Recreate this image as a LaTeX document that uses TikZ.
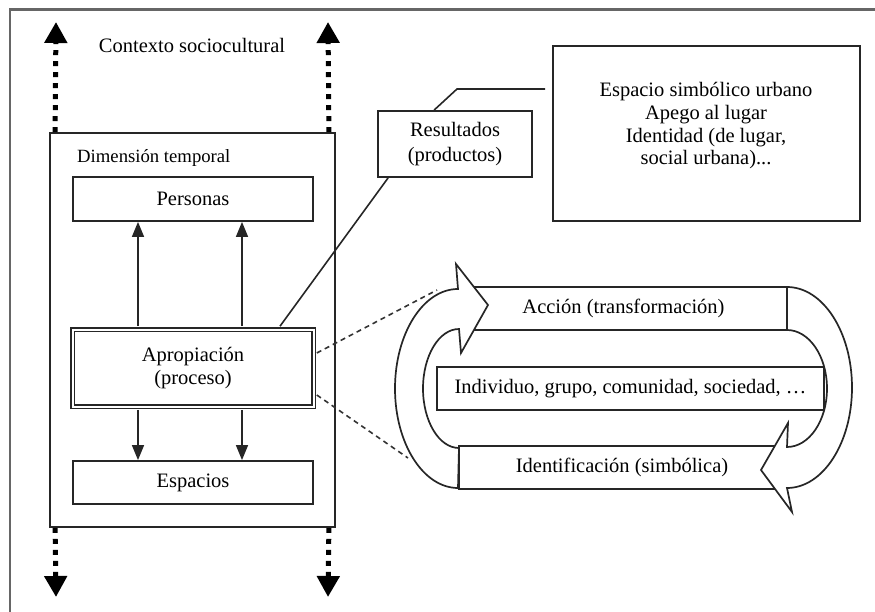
\documentclass[tikz,border=0pt]{standalone}
\usepackage{fontspec}
\setmainfont{Liberation Serif}
\usetikzlibrary{arrows.meta}
\begin{document}
\begin{tikzpicture}[x=1pt,y=-1pt,
  box/.style={draw=black!85,line width=1.8pt,fill=white,inner sep=0pt,
    font=\fontsize{20.5}{23}\selectfont,align=center},
  txt/.style={inner sep=0pt,font=\fontsize{20.5}{22.7}\selectfont,align=center},
  conn/.style={draw=black!85,line width=1.6pt},
  arr/.style={conn,-{Triangle[width=12pt,length=15pt]}},
  dotarr/.style={draw=black,line width=5pt,dash pattern=on 5pt off 6pt,
    -{Triangle[width=22pt,length=21pt]}},
  dashline/.style={draw=black!80,line width=1.6pt,dash pattern=on 5pt off 4pt},
  band/.style={draw=black!85,line width=1.7pt,fill=white,line join=miter},
  frame/.style={draw=black!60,line width=2.2pt}
]
\useasboundingbox (0,0) rectangle (875,612);
% outer frame (cropped)
\draw[frame] (875,9.5) -- (10,9.5) -- (10,612);
\node[txt] (ctx) at (192,45) {Contexto sociocultural};
% Dimension temporal box
\node[draw=black!85,line width=1.8pt,inner sep=0pt,minimum width=285,minimum height=394] (dim) at (192.5,330) {};
\node[inner sep=0pt,anchor=west,font=\fontsize{18.7}{22}\selectfont] (dimt) at (77,158) {Dimensión temporal};
% dotted arrows
\coordinate (tl) at (56,22);
\coordinate (tr) at (328,22);
\coordinate (bl) at (56,597);
\coordinate (br) at (328,597);
\draw[dotarr] ([xshift=6pt]dim.north west) -- (tl);
\draw[dotarr] ([xshift=-7pt]dim.north east) -- (tr);
\draw[dotarr] ([xshift=6pt]dim.south west) -- (bl);
\draw[dotarr] ([xshift=-7pt]dim.south east) -- (br);
% boxes
\node[box,minimum width=240,minimum height=44] (per) at (193,199) {Personas};
\node[box,double,double distance=2pt,line width=1.6pt,minimum width=241,minimum height=77] (apr) at (193,368) {Apropiación\\(proceso)};
\node[box,minimum width=240,minimum height=43] (esp) at (193,482.5) {Espacios};
\draw[arr] ([xshift=-55pt,yshift=2.5pt]apr.north) -- ([xshift=-55pt]per.south);
\draw[arr] ([xshift=49pt,yshift=2.5pt]apr.north) -- ([xshift=49pt]per.south);
\draw[arr] ([xshift=-55pt,yshift=-2.5pt]apr.south) -- ([xshift=-55pt]esp.north);
\draw[arr] ([xshift=49pt,yshift=-2.5pt]apr.south) -- ([xshift=49pt]esp.north);
% resultados
\node[box,minimum width=154,minimum height=66,font=\fontsize{20.5}{25}\selectfont] (res) at (455,144) {Resultados\\(productos)};
\node[box,minimum width=307,minimum height=175] (esb) at (706.5,133.5) {};
\node[txt] (esbt) at (706,126) {Espacio simbólico urbano\\Apego al lugar\\Identidad (de lugar,\\social urbana)...};
\coordinate (rend) at (545,89);
\draw[conn] ([xshift=87pt,yshift=2.5pt]apr.north) -- ([xshift=11pt]res.south west);
\draw[conn] ([xshift=57pt]res.north west) -- (457,89) -- (rend);
% dashed lines
\coordinate (d1) at (437,290);
\coordinate (d2) at (408,458);
\draw[dashline] ([xshift=2.5pt,yshift=15pt]apr.east) -- (d1);
\draw[dashline] ([xshift=2.5pt,yshift=-27pt]apr.east) -- (d2);
% cycle
\node[box,minimum width=327,minimum height=43] (acc) at (623.5,308.5) {Acción (transformación)};
\node[box,minimum width=326,minimum height=43] (ide) at (622,467.5) {Identificación (simbólica)};
\draw[band] (458,488) arc[start angle=90,end angle=270,x radius=63,y radius=99.5]
  -- (456,264) -- (488,305) -- (461,353) -- (459,329)
  arc[start angle=270,end angle=90,x radius=36,y radius=59.5] -- cycle;
\draw[band] (787,287) arc[start angle=270,end angle=450,x radius=65,y radius=100.5]
  -- (792,512) -- (761,470) -- (788,423) -- (787,447)
  arc[start angle=90,end angle=-90,x radius=40,y radius=58.5] -- cycle;
\node[box,minimum width=387,minimum height=43] (ind) at (630.5,388.5) {Individuo, grupo, comunidad, sociedad, …};
\end{tikzpicture}
\end{document}
